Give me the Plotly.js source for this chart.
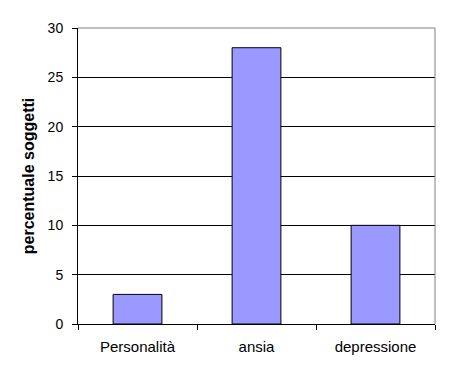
<!DOCTYPE html>
<html>
<head>
<meta charset="utf-8">
<script src="https://cdn.plot.ly/plotly-3.0.1.min.js"></script>
<style>html,body{margin:0;padding:0;background:#fff;}#chart{width:450px;height:375px;}</style>
</head>
<body>
<div id="chart"></div>
<script>
const categories = ["Personalità", "ansia", "depressione"];
const values = [3, 28, 10];
const yTitle = "percentuale soggetti";

const trace = {
  type: "bar",
  x: categories,
  y: values,
  width: 0.41,
  marker: { color: "#9999FF", line: { color: "#000000", width: 1 } },
  hoverinfo: "none"
};

const layout = {
  width: 450,
  height: 375,
  margin: { l: 78, r: 15, t: 28, b: 51 },
  paper_bgcolor: "#ffffff",
  plot_bgcolor: "#ffffff",
  font: { family: "Liberation Sans, Arial, sans-serif", size: 14, color: "#000000" },
  showlegend: false,
  xaxis: {
    type: "category",
    showline: true,
    linecolor: "#000000",
    linewidth: 1,
    mirror: false,
    ticks: "outside",
    tickson: "boundaries",
    ticklen: 5,
    tickcolor: "#000000",
    showgrid: false,
    zeroline: false,
    ticklabelstandoff: 9,
    tickfont: { size: 15 }
  },
  yaxis: {
    range: [0, 30],
    dtick: 5,
    showline: true,
    linecolor: "#000000",
    linewidth: 1,
    ticks: "outside",
    ticklen: 5,
    tickcolor: "#000000",
    showgrid: true,
    gridcolor: "#000000",
    gridwidth: 1,
    zeroline: false,
    ticklabelstandoff: 6,
    tickfont: { size: 14 },
    title: { text: yTitle, font: { size: 16, weight: "bold" }, standoff: 9 }
  },
  shapes: [
    { type: "line", xref: "paper", yref: "paper", x0: 1, x1: 1, y0: 0, y1: 1, line: { color: "#808080", width: 1 } },
    { type: "line", xref: "paper", yref: "paper", x0: 0, x1: 1, y0: 1, y1: 1, line: { color: "#808080", width: 1 } }
  ]
};

Plotly.newPlot("chart", [trace], layout, { staticPlot: true, displayModeBar: false });
</script>
</body>
</html>
